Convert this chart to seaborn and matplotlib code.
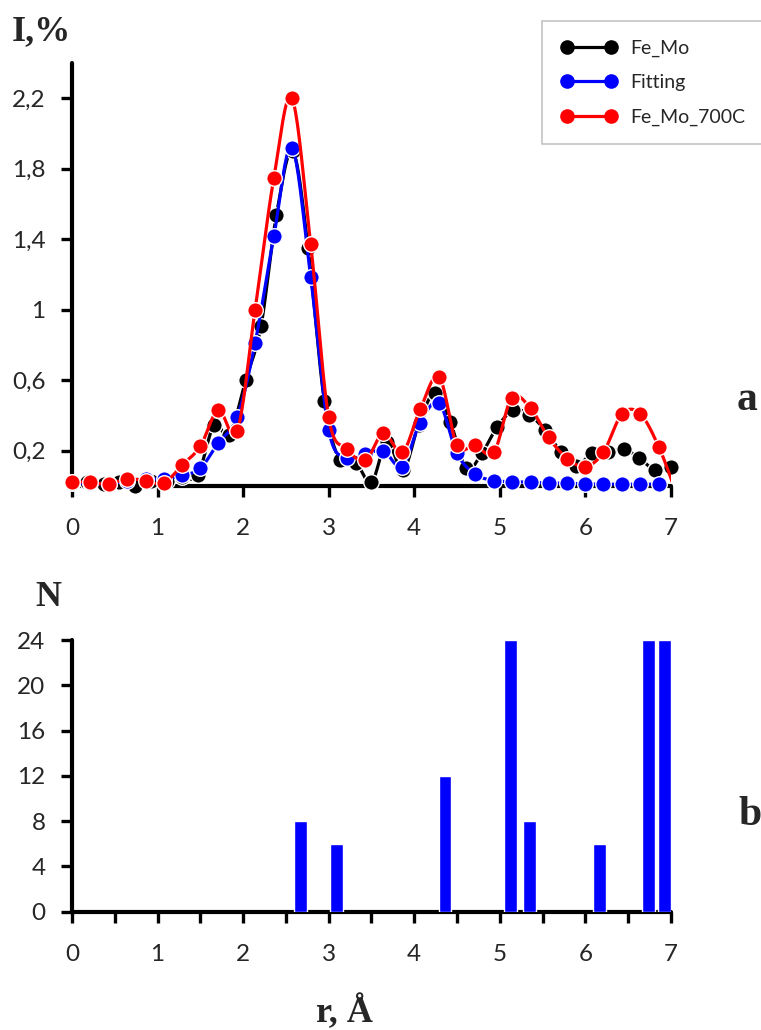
import numpy as np
import pandas as pd
import seaborn as sns
import matplotlib
matplotlib.use('Agg')
import matplotlib.pyplot as plt
from matplotlib.lines import Line2D
from matplotlib.ticker import FixedLocator, MultipleLocator

# ---- panel a: radial distribution, I,% ----
r_700 = [0, 0.21, 0.43, 0.64, 0.86, 1.07, 1.29, 1.5, 1.71, 1.93, 2.14, 2.36, 2.57, 2.79,
         3.0, 3.21, 3.43, 3.64, 3.86, 4.07, 4.29, 4.5, 4.71, 4.93, 5.14, 5.36, 5.57, 5.79,
         6.0, 6.21, 6.43, 6.64, 6.86, 7.07]
i_700 = [0.025, 0.02, 0.01, 0.04, 0.03, 0.015, 0.12, 0.225, 0.43, 0.31, 1.0, 1.75, 2.20, 1.37,
         0.39, 0.21, 0.147, 0.30, 0.19, 0.435, 0.62, 0.23, 0.23, 0.19, 0.50, 0.44, 0.275, 0.155,
         0.11, 0.19, 0.41, 0.41, 0.22, -0.05]

r_fit = [0, 0.21, 0.43, 0.64, 0.86, 1.07, 1.29, 1.5, 1.71, 1.93, 2.14, 2.36, 2.57, 2.79,
         3.0, 3.21, 3.43, 3.64, 3.86, 4.07, 4.29, 4.5, 4.71, 4.93, 5.14, 5.36, 5.57, 5.79,
         6.0, 6.21, 6.43, 6.64, 6.86]
i_fit = [0.015, 0.015, 0.01, 0.03, 0.04, 0.04, 0.06, 0.10, 0.245, 0.39, 0.81, 1.42, 1.92, 1.185,
         0.32, 0.157, 0.18, 0.20, 0.11, 0.36, 0.47, 0.185, 0.068, 0.03, 0.025, 0.02, 0.018, 0.015,
         0.012, 0.01, 0.01, 0.01, 0.01]

r_femo = [0, 0.18, 0.37, 0.55, 0.74, 0.92, 1.11, 1.29, 1.47, 1.66, 1.84, 2.03, 2.21, 2.39,
          2.58, 2.76, 2.95, 3.13, 3.32, 3.5, 3.68, 3.87, 4.05, 4.24, 4.42, 4.61, 4.79, 4.97,
          5.16, 5.34, 5.53, 5.71, 5.89, 6.08, 6.26, 6.45, 6.63, 6.82, 7.0]
i_femo = [0.02, 0.02, 0.01, 0.02, 0.0, 0.03, 0.03, 0.05, 0.06, 0.345, 0.29, 0.60, 0.91, 1.54,
          1.90, 1.35, 0.48, 0.147, 0.13, 0.02, 0.25, 0.09, 0.345, 0.53, 0.365, 0.10, 0.185, 0.335,
          0.43, 0.405, 0.317, 0.195, 0.113, 0.185, 0.19, 0.21, 0.157, 0.09, 0.105]

series_names = ['Fe_Mo', 'Fitting', 'Fe_Mo_700C']
series_colors = ['#000000', '#0000FF', '#FF0000']

y_ticks_a = [0.2, 0.6, 1.0, 1.4, 1.8, 2.2]
y_labels_a = ['0,2', '0,6', '1', '1,4', '1,8', '2,2']

# ---- panel b: coordination numbers N ----
r_shell = [2.67, 3.09, 4.36, 5.12, 5.35, 6.17, 6.74, 6.92]
n_shell = [8, 6, 12, 24, 8, 6, 24, 24]


# Excel-like smooth line (Catmull-Rom through the points)
def smooth_curve(xs, ys, n=20):
    px = np.r_[xs[0], xs, xs[-1]]
    py = np.r_[ys[0], ys, ys[-1]]
    t = np.linspace(0, 1, n, endpoint=False)
    out_x, out_y = [], []
    for i in range(1, len(px) - 2):
        for arr, out in ((px, out_x), (py, out_y)):
            p0, p1, p2, p3 = arr[i - 1], arr[i], arr[i + 1], arr[i + 2]
            out.extend(0.5 * (2 * p1 + (-p0 + p2) * t + (2 * p0 - 5 * p1 + 4 * p2 - p3) * t ** 2
                              + (-p0 + 3 * p1 - 3 * p2 + p3) * t ** 3))
    out_x.append(xs[-1])
    out_y.append(ys[-1])
    return pd.DataFrame({'r': out_x, 'I': out_y})


sns.set_style('white')
plt.rcParams['font.family'] = ['Lato', 'DejaVu Sans']

fig = plt.figure(figsize=(7.61, 10.30), dpi=100)
ax1 = fig.add_axes([0.0946, 0.5282, 0.787, 0.4107])
ax2 = fig.add_axes([0.0946, 0.1149, 0.787, 0.2637])

data_sets = [(r_femo, i_femo), (r_fit, i_fit), (r_700, i_700)]
for k, ((xs, ys), name, col) in enumerate(zip(data_sets, series_names, series_colors)):
    curve = smooth_curve(np.array(xs, float), np.array(ys, float))
    sns.lineplot(data=curve, x='r', y='I', sort=False, estimator=None, color=col,
                 lw=2.3, ax=ax1, zorder=3 + 2 * k)
    pts = pd.DataFrame({'r': xs, 'I': ys})
    pts = pts[pts['r'] <= 7.0]
    sns.scatterplot(data=pts, x='r', y='I', color=col, s=125, edgecolor='white',
                    linewidth=1.0, ax=ax1, zorder=4 + 2 * k, clip_on=False)

ax1.set_xlim(0, 7)
ax1.set_ylim(0, 2.4)
ax1.xaxis.set_major_locator(MultipleLocator(1))
ax1.yaxis.set_major_locator(FixedLocator(y_ticks_a))
ax1.set_yticklabels(y_labels_a)

sns.barplot(x=r_shell, y=n_shell, native_scale=True, color='#0000FF', saturation=1,
            width=0.84, errorbar=None, ax=ax2, zorder=3)
ax2.set_xlim(0, 7)
ax2.set_ylim(0, 24)
ax2.xaxis.set_major_locator(MultipleLocator(1))
ax2.xaxis.set_minor_locator(MultipleLocator(0.5))
ax2.yaxis.set_major_locator(MultipleLocator(4))

for ax in (ax1, ax2):
    ax.set_xlabel('')
    ax.set_ylabel('')
    ax.grid(False)
    for side in ('top', 'right'):
        ax.spines[side].set_visible(False)
    for side in ('left', 'bottom'):
        ax.spines[side].set_linewidth(3.0)
        ax.spines[side].set_color('black')
        ax.spines[side].set_capstyle('round')
    ax.tick_params(axis='both', which='both', direction='out', length=8, width=2.4,
                   color='black', labelsize=17.5, bottom=True, left=True)
    ax.tick_params(axis='x', which='both', pad=15)
    ax.tick_params(axis='y', pad=11)
    ax.spines['bottom'].set_zorder(2)
    ax.set_xticks(range(0, 8))
    ax.set_xticklabels([str(v) for v in range(0, 8)])

ax2.tick_params(axis='x', which='minor', length=8, width=2.4)

handles = [Line2D([], [], color=c, marker='o', markersize=9.5, lw=2.3) for c in series_colors]
leg = fig.legend(handles, series_names, loc='upper right', bbox_to_anchor=(1.003, 1 - 21 / 1030),
                 bbox_transform=fig.transFigure, numpoints=2, fontsize=14, frameon=True,
                 fancybox=False, handlelength=2.9, handletextpad=0.65, labelspacing=0.9,
                 borderpad=0.95, borderaxespad=0.0)
leg.get_frame().set_edgecolor('#b5b5b5')
leg.get_frame().set_linewidth(1.2)

serif = ['Liberation Serif', 'DejaVu Serif']
fig.text(0.054, 0.969, 'I,%', family=serif, fontweight='bold', fontsize=26, ha='center', va='center')
fig.text(0.063, 0.420, 'N', family=serif, fontweight='bold', fontsize=26, ha='center', va='center')
fig.text(0.452, 0.008, 'r, Å', family=serif, fontweight='bold', fontsize=26, ha='center', va='baseline')
fig.text(0.982, 0.612, 'a', family=serif, fontweight='bold', fontsize=30, ha='center', va='center')
fig.text(0.985, 0.209, 'b', family=serif, fontweight='bold', fontsize=30, ha='center', va='center')

fig.savefig('out.png', dpi=100)
